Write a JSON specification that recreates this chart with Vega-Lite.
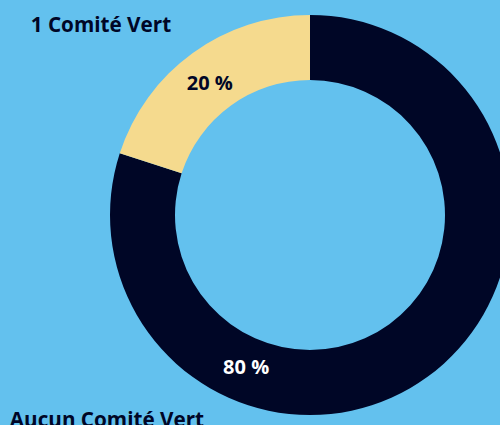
{
  "$schema": "https://vega.github.io/schema/vega-lite/v6.json",
  "autosize": "none",
  "width": 380,
  "height": 400,
  "padding": {"left": 120, "top": 15, "right": 0, "bottom": 10},
  "background": "#63C1EE",
  "view": {"stroke": null},
  "config": {"text": {"font": "Open Sans", "fontWeight": "bold"}},
  "data": {"values": [
    {"categorie": "Aucun Comité Vert", "valeur": 80, "etiquette": "80 %"},
    {"categorie": "1 Comité Vert", "valeur": 20, "etiquette": "20 %"}
  ]},
  "encoding": {
    "theta": {"field": "valeur", "type": "quantitative", "stack": true},
    "order": {"field": "categorie", "sort": "descending"}
  },
  "layer": [
    {
      "mark": {"type": "arc", "outerRadius": 200, "innerRadius": 135},
      "encoding": {
        "color": {"field": "categorie", "type": "nominal", "legend": null,
          "scale": {"domain": ["Aucun Comité Vert", "1 Comité Vert"], "range": ["#000626", "#F5DA8E"]}}
      }
    },
    {
      "mark": {"type": "text", "radius": 167, "dx": -2, "dy": 4, "fontSize": 20, "color": "#000626", "baseline": "middle"},
      "encoding": {"text": {"condition": {"test": "datum.categorie === '1 Comité Vert'", "field": "etiquette"}, "value": ""}}
    },
    {
      "mark": {"type": "text", "radius": 167, "dx": -162, "dy": 18, "fontSize": 20, "color": "#FFFFFF", "baseline": "middle"},
      "encoding": {"text": {"condition": {"test": "datum.categorie === 'Aucun Comité Vert'", "field": "etiquette"}, "value": ""}}
    },
    {
      "mark": {"type": "text", "radius": 240, "dx": -68, "dy": 5, "fontSize": 20.7, "color": "#000626", "baseline": "middle"},
      "encoding": {"text": {"condition": {"test": "datum.categorie === '1 Comité Vert'", "field": "categorie"}, "value": ""}}
    },
    {
      "mark": {"type": "text", "radius": 250, "dx": -350, "dy": 4, "fontSize": 20.7, "color": "#000626", "baseline": "middle"},
      "encoding": {"text": {"condition": {"test": "datum.categorie === 'Aucun Comité Vert'", "field": "categorie"}, "value": ""}}
    }
  ]
}
